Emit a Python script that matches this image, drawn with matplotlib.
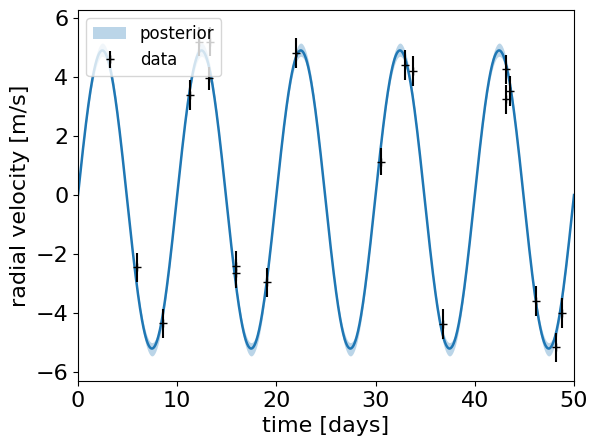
import numpy as np
import matplotlib
matplotlib.use("Agg")
import matplotlib.pyplot as plt

# observed data
t_obs = [3.19, 5.95, 8.57, 11.26, 12.2, 13.2, 13.3, 15.96, 15.96, 19.09, 21.98,
         30.55, 32.96, 33.8, 36.76, 43.1, 43.1, 43.58, 46.17, 48.15, 48.82]
v_obs = [4.60, -2.45, -4.35, 3.39, 5.2, 3.95, 5.2, -2.41, -2.65, -2.96, 4.81,
         1.13, 4.41, 4.20, -4.37, 4.26, 3.24, 3.53, -3.59, -5.16, -3.99]
v_err = [0.28, 0.5, 0.5, 0.5, 0.5, 0.4, 0.5, 0.5, 0.5, 0.5, 0.5,
         0.45, 0.5, 0.5, 0.5, 0.5, 0.5, 0.5, 0.5, 0.5, 0.5]

# fitted circular-orbit model parameters (median and posterior range)
period = 10.0
amp_med = 5.05
amp_lo = 4.85
amp_hi = 5.30
offset = -0.15
phase = 0.03

t_grid = np.linspace(0, 50, 1000)
s = np.sin(2 * np.pi * t_grid / period + phase)
model = offset + amp_med * s
band_a = offset + amp_lo * s
band_b = offset + amp_hi * s
lower = np.minimum(band_a, band_b)
upper = np.maximum(band_a, band_b)

fig = plt.figure(figsize=(5.98, 4.44), dpi=100)
ax = fig.add_axes([78/598, 1 - 381/444, (574-78)/598, (381-10)/444])

ax.fill_between(t_grid, lower, upper, color="C0", alpha=0.3, lw=0, label="posterior")
ax.plot(t_grid, model, color="C0", lw=1.8)
ax.errorbar(t_obs, v_obs, yerr=v_err, fmt="+k", ms=6, elinewidth=1.5, label="data")

ax.set_xlim(0, 50)
ax.set_ylim(-6.3, 6.27)
ax.set_xlabel("time [days]", fontsize=16)
ax.set_ylabel("radial velocity [m/s]", fontsize=16)
ax.tick_params(labelsize=16)
ax.legend(fontsize=12, loc="upper left")

fig.savefig("out.png", dpi=100)
